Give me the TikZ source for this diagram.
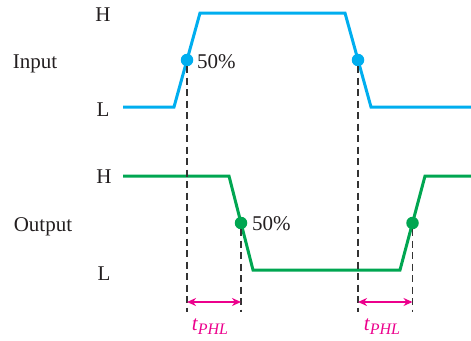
\documentclass[tikz,border=0pt]{standalone}
\usepackage{fontspec}
\setmainfont{Liberation Serif}
\usetikzlibrary{arrows.meta}
\definecolor{incol}{RGB}{0,174,239}
\definecolor{outcol}{RGB}{0,166,81}
\definecolor{tcol}{RGB}{236,0,140}
\definecolor{txt}{RGB}{35,31,32}
\newcommand{\tphl}{{\fontsize{21}{23}\selectfont\itshape t}\raisebox{-4pt}{\fontsize{16}{18}\selectfont\itshape PHL}}
\tikzset{
  wave/.style={line width=3pt, line join=miter},
  lbl/.style={font=\fontsize{21}{23}\selectfont, text=txt, inner sep=0pt},
  dot/.style={circle, fill=#1, inner sep=0pt, minimum size=12.5pt},
  guide/.style={dashed, dash pattern=on 7pt off 4.5pt, line width=1.2pt, draw=black!80},
  span/.style={{Stealth[length=9pt,width=8pt]}-{Stealth[length=9pt,width=8pt]}, draw=tcol, line width=1.5pt},
  tlbl/.style={text=tcol, inner sep=0pt}
}
\begin{document}
\begin{tikzpicture}[x=1pt,y=-1pt]
\useasboundingbox (0,0) rectangle (471,340);
% labels
\node[lbl] (ih) at (103,15) {H};
\node[lbl] (il) at (103,110) {L};
\node[lbl] (in) at (35,64) {Input};
\node[lbl] (oh) at (104,177) {H};
\node[lbl] (ol) at (104,274) {L};
\node[lbl] (on) at (43,227) {Output};
% input waveform
\draw[wave, incol] (123,107) -- (174,107) -- (200,13) -- (345,13) -- (371,107) -- (471,107);
% output waveform
\draw[wave, outcol] (123,176) -- (229,176) -- (253,270) -- (400,270) -- (425,176) -- (471,176);
% 50% points
\node[dot=incol] (ia) at (187,60) {};
\node[dot=incol] (ib) at (358,60) {};
\node[dot=outcol] (oa) at (241,223) {};
\node[dot=outcol] (ob) at (412.5,223) {};
\node[lbl, anchor=west] (ip) at (197,62) {50\%};
\node[lbl, anchor=west] (op) at (252,224) {50\%};
% guide line ends
\coordinate (ia2) at (187,312);
\coordinate (ib2) at (358,312);
\coordinate (oa2) at (241,312);
\coordinate (ob2) at (412.5,312);
\draw[guide] (ia.center) ++(0,6) -- (ia2);
\draw[guide] (ib.center) ++(0,6) -- (ib2);
\draw[guide] (oa.center) ++(0,6) -- (oa2);
\draw[guide] (ob.center) ++(0,6) -- (ob2);
% arrows
\coordinate (a1) at (187,302);
\coordinate (a2) at (241,302);
\coordinate (b1) at (358,302);
\coordinate (b2) at (412.5,302);
\draw[span] (a1) -- (a2);
\draw[span] (b1) -- (b2);
\node[tlbl] (t1) at (210,327) {\tphl};
\node[tlbl] (t2) at (382,327) {\tphl};
\end{tikzpicture}
\end{document}
